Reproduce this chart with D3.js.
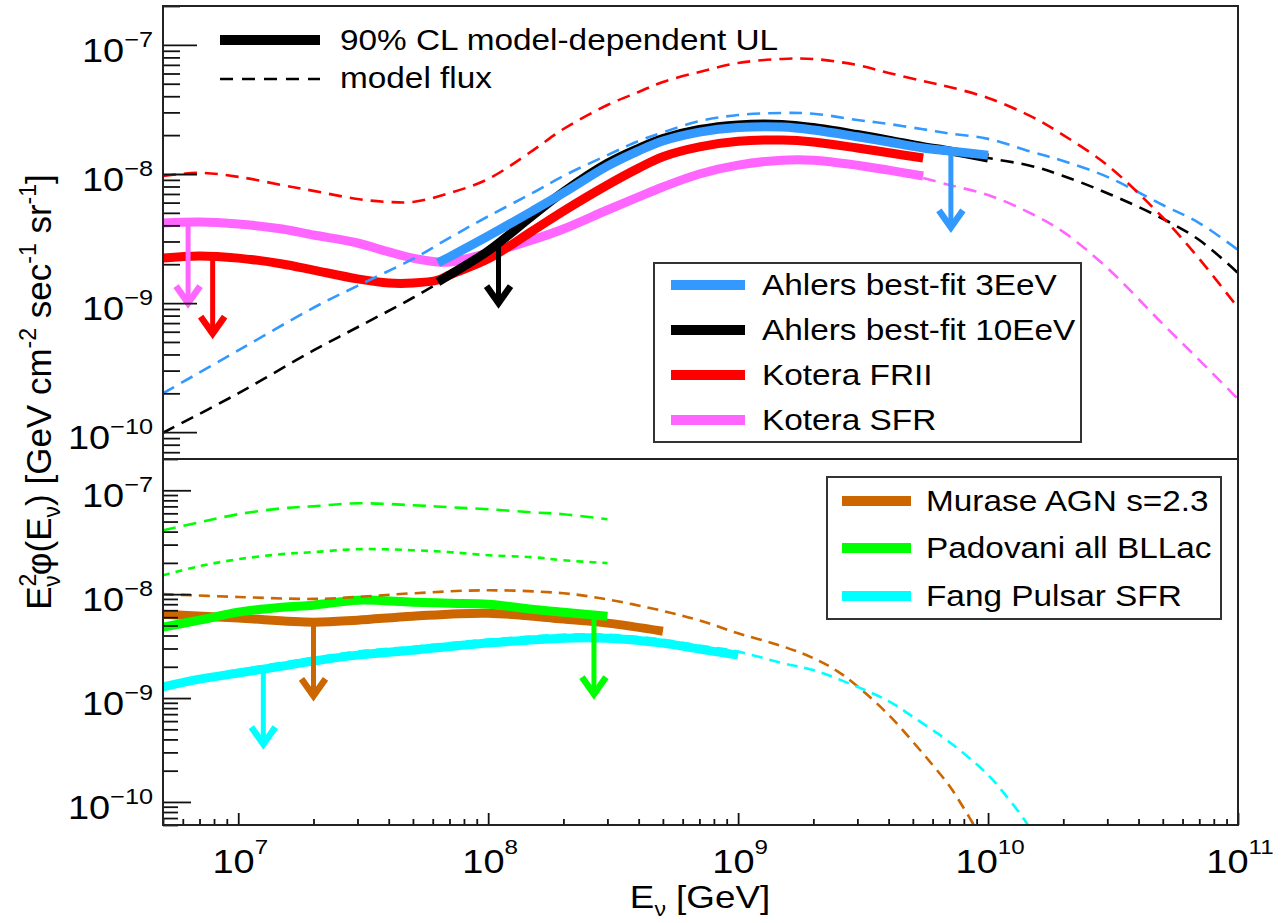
<!DOCTYPE html>
<html>
<head>
<meta charset="utf-8">
<script src="https://cdn.jsdelivr.net/npm/d3@7"></script>
<style>
  body { margin: 0; background: #fff; }
  #chart { display: block; }
  #chart text { font-family: "Liberation Sans", Arial, Helvetica, sans-serif; fill: #000; }
</style>
</head>
<body>
<svg id="chart"></svg>
<script>
// ---------- data (E in GeV, E^2 flux in GeV cm^-2 s^-1 sr^-1) ----------
var xTickValues = [1e7, 1e8, 1e9, 1e10, 1e11];
var xTickExps   = ["7", "8", "9", "10", "11"];
var yTickValues = [1e-7, 1e-8, 1e-9, 1e-10];
var yTickExps   = ["\u22127", "\u22128", "\u22129", "\u221210"];

// top panel: model fluxes
var kotFR2ModelE = [5e6, 7e6, 1e7, 1.5e7, 2e7, 3e7, 4e7, 5e7, 7e7, 1e8, 1.5e8, 2e8, 3e8, 4e8, 5e8, 7e8, 1e9, 1.5e9, 2e9, 3e9, 4e9, 5.5e9, 7e9, 1e10, 1.5e10, 2e10, 3e10, 5e10, 7e10, 1e11];
var kotFR2ModelF = [9.65e-9, 1.02e-8, 9.5e-9, 8.2e-9, 7.4e-9, 6.4e-9, 6.07e-9, 6.07e-9, 7.1e-9, 9.15e-9, 1.51e-8, 2.23e-8, 3.42e-8, 4.32e-8, 5.16e-8, 6.17e-8, 7.24e-8, 7.78e-8, 7.78e-8, 6.98e-8, 6.06e-8, 5.25e-8, 4.72e-8, 3.88e-8, 2.77e-8, 2.0e-8, 1.17e-8, 4.6e-9, 2.2e-9, 9.2e-10];
var ahlers3ModelE = [5e6, 1e7, 2e7, 3e7, 5e7, 7e7, 1e8, 1.5e8, 2e8, 3e8, 4e8, 5e8, 7e8, 1e9, 1.5e9, 2e9, 3e9, 4e9, 5.5e9, 7e9, 1e10, 1.5e10, 2e10, 3e10, 5e10, 7e10, 1e11];
var ahlers3ModelF = [2.0e-10, 4.3e-10, 9.2e-10, 1.36e-9, 2.2e-9, 3.2e-9, 4.7e-9, 7.1e-9, 9.65e-9, 1.4e-8, 1.8e-8, 2.1e-8, 2.57e-8, 2.86e-8, 2.97e-8, 2.93e-8, 2.62e-8, 2.44e-8, 2.22e-8, 2.06e-8, 1.87e-8, 1.48e-8, 1.26e-8, 9.5e-9, 5.75e-9, 4.17e-9, 2.58e-9];
var ahlers10ModelE = [5e6, 1e7, 2e7, 3e7, 5e7, 7e7, 1e8, 1.5e8, 2e8, 3e8, 4e8, 5e8, 7e8, 1e9, 1.5e9, 2e9, 3e9, 4e9, 5.5e9, 7e9, 1e10, 1.5e10, 2e10, 3e10, 5e10, 7e10, 1e11];
var ahlers10ModelF = [9.9e-11, 2.0e-10, 4.3e-10, 6.5e-10, 1.1e-9, 1.62e-9, 2.54e-9, 4.73e-9, 7.26e-9, 1.21e-8, 1.58e-8, 1.88e-8, 2.21e-8, 2.40e-8, 2.42e-8, 2.29e-8, 2.02e-8, 1.83e-8, 1.63e-8, 1.51e-8, 1.33e-8, 1.15e-8, 9.65e-9, 7.1e-9, 4.5e-9, 3.08e-9, 1.71e-9];
var kotSFRModelE = [5.5e9, 7e9, 1e10, 1.5e10, 2e10, 3e10, 5e10, 7e10, 1e11];
var kotSFRModelF = [9.31e-9, 8.22e-9, 6.88e-9, 4.9e-9, 3.56e-9, 1.87e-9, 6.89e-10, 3.62e-10, 1.81e-10];

// top panel: 90% CL upper limits
var kotULE = [5e6, 7e6, 1e7, 1.5e7, 2e7, 3e7, 4e7, 5e7, 6.3e7, 7e7, 1e8, 1.5e8, 2e8, 3e8, 4e8, 5e8, 7e8, 1e9, 1.5e9, 2e9, 3e9, 4e9, 5.5e9];
var kotFR2ULF = [2.23e-9, 2.32e-9, 2.23e-9, 2.01e-9, 1.80e-9, 1.54e-9, 1.43e-9, 1.43e-9, 1.51e-9, 1.65e-9, 2.2e-9, 3.61e-9, 5.16e-9, 8.22e-9, 1.11e-8, 1.36e-8, 1.62e-8, 1.79e-8, 1.83e-8, 1.77e-8, 1.59e-8, 1.46e-8, 1.33e-8];
var kotSFRULF = [4.17e-9, 4.25e-9, 4.10e-9, 3.75e-9, 3.37e-9, 2.92e-9, 2.49e-9, 2.23e-9, 2.08e-9, 2.08e-9, 2.44e-9, 3.08e-9, 3.75e-9, 5.26e-9, 6.64e-9, 7.93e-9, 1.0e-8, 1.17e-8, 1.28e-8, 1.28e-8, 1.17e-8, 1.07e-8, 9.65e-9];
var ahlersULE = [6.3e7, 7e7, 1e8, 1.5e8, 2e8, 3e8, 4e8, 5e8, 7e8, 1e9, 1.5e9, 2e9, 3e9, 4e9, 5.5e9, 7e9, 1e10];
var ahlers3ULF = [2.05e-9, 2.28e-9, 3.31e-9, 5.16e-9, 7.13e-9, 1.15e-8, 1.51e-8, 1.80e-8, 2.11e-8, 2.29e-8, 2.31e-8, 2.19e-8, 1.94e-8, 1.77e-8, 1.59e-8, 1.51e-8, 1.40e-8];
var ahlers10ULF = [1.46e-9, 1.65e-9, 2.54e-9, 4.73e-9, 7.26e-9, 1.21e-8, 1.58e-8, 1.88e-8, 2.21e-8, 2.40e-8, 2.42e-8, 2.29e-8, 2.02e-8, 1.83e-8, 1.63e-8, 1.51e-8, 1.33e-8];

// top panel arrows (SFR, FRII, Ahlers 10EeV, Ahlers 3EeV)
var topArrowE    = [6.3e6, 7.9e6, 1.1e8, 7.1e9];
var topArrowFrom = [4.2e-9, 2.3e-9, 3.08e-9, 1.51e-8];
var topArrowTo   = [9.3e-10, 5.4e-10, 9.3e-10, 3.6e-9];

// bottom panel: model fluxes
var padovaniE = [5e6, 7e6, 1e7, 1.5e7, 2e7, 3e7, 5e7, 7e7, 1e8, 1.5e8, 2e8, 3e8];
var padovaniModelF  = [4.12e-8, 4.92e-8, 5.88e-8, 6.71e-8, 7.02e-8, 7.50e-8, 7.18e-8, 6.87e-8, 6.56e-8, 6.14e-8, 5.88e-8, 5.26e-8];
var padovaniModel2F = [1.52e-8, 1.86e-8, 2.17e-8, 2.43e-8, 2.54e-8, 2.71e-8, 2.65e-8, 2.54e-8, 2.37e-8, 2.27e-8, 2.12e-8, 1.99e-8];
var padovaniULF     = [4.82e-9, 5.62e-9, 6.71e-9, 7.50e-9, 7.84e-9, 8.75e-9, 8.37e-9, 8.19e-9, 8.01e-9, 7.17e-9, 6.71e-9, 6.14e-9];
var muraseModelE = [5e6, 1e7, 2e7, 3e7, 5e7, 1e8, 2e8, 3e8, 5e8, 7e8, 1e9, 1.5e9, 2e9, 2.5e9, 3e9, 4e9, 5e9, 6e9, 7e9, 8e9, 9e9];
var muraseModelF = [1.0e-8, 9.4e-9, 9.0e-9, 9.4e-9, 1.02e-8, 1.09e-8, 1.02e-8, 8.9e-9, 6.9e-9, 5.6e-9, 4.2e-9, 3.16e-9, 2.42e-9, 1.81e-9, 1.30e-9, 6.9e-10, 3.8e-10, 2.27e-10, 1.43e-10, 8.7e-11, 5.4e-11];
var muraseULE = [5e6, 1e7, 2e7, 3e7, 5e7, 1e8, 2e8, 3e8, 5e8];
var muraseULF = [6.42e-9, 5.88e-9, 5.38e-9, 5.62e-9, 6.14e-9, 6.56e-9, 5.75e-9, 5.26e-9, 4.4e-9];
var fangModelE = [5e6, 1e7, 2e7, 3e7, 5e7, 1e8, 2e8, 3e8, 5e8, 7e8, 1e9, 1.5e9, 2e9, 3e9, 4e9, 5e9, 7e9, 1e10, 1.2e10, 1.4e10, 1.6e10];
var fangModelF = [1.36e-9, 1.86e-9, 2.43e-9, 2.80e-9, 3.12e-9, 3.65e-9, 4.07e-9, 4.07e-9, 3.65e-9, 3.2e-9, 2.8e-9, 2.17e-9, 1.86e-9, 1.28e-9, 9.35e-10, 6.6e-10, 3.78e-10, 1.82e-10, 1.09e-10, 6.7e-11, 4e-11];
var fangULE = [5e6, 7e6, 1e7, 1.5e7, 2e7, 3e7, 5e7, 1e8, 2e8, 3e8, 5e8, 7e8, 1e9];
var fangULF = [1.28e-9, 1.52e-9, 1.74e-9, 2.03e-9, 2.27e-9, 2.59e-9, 2.89e-9, 3.38e-9, 3.77e-9, 3.77e-9, 3.38e-9, 2.96e-9, 2.59e-9];

// bottom panel arrows (Fang, Murase, Padovani)
var botArrowE    = [1.26e7, 2.0e7, 2.65e8];
var botArrowFrom = [1.94e-9, 5.38e-9, 6.3e-9];
var botArrowTo   = [3.3e-10, 9.6e-10, 1.0e-9];

// legends
var topLegendNames = ["Ahlers best-fit 3EeV", "Ahlers best-fit 10EeV", "Kotera FRII", "Kotera SFR"];
var botLegendNames = ["Murase AGN s=2.3", "Padovani all BLLac", "Fang Pulsar SFR"];

// ---------- styles ----------
var BLUE = "#3399ff", BLACK = "#000000", RED = "#ff0000", PINK = "#ff66ff",
    BROWN = "#cc6600", GREEN = "#00ff00", CYAN = "#00ffff";
var SX = 1.15;           // horizontal stretch of the reference lettering
var UL_W = 9, MODEL_W = 2.6;

var W = 1285, H = 923;
var padL = 163, padR = 1238, padT = 6, padM = 459, padB = 825;

var svg = d3.select("#chart").attr("width", W).attr("height", H);

var x = d3.scaleLog().domain([5e6, 1e11]).range([padL, padR]);
var yTop = d3.scaleLog().domain([6.2e-11, 2e-7]).range([padM, padT]);
var yBot = d3.scaleLog().domain([6.0e-11, 2e-7]).range([padB, padM]);

var defs = svg.append("defs");
defs.append("clipPath").attr("id", "clipTop").append("rect")
    .attr("x", padL).attr("y", padT).attr("width", padR - padL).attr("height", padM - padT);
defs.append("clipPath").attr("id", "clipBot").append("rect")
    .attr("x", padL).attr("y", padM).attr("width", padR - padL).attr("height", padB - padM);

function zip(E, F) { return E.map(function(e, i) { return [e, F[i]]; }); }

function drawLine(g, y, E, F, color, width, dash) {
  var line = d3.line()
      .x(function(d) { return x(d[0]); })
      .y(function(d) { return y(d[1]); })
      .curve(d3.curveCatmullRom.alpha(0.5));
  g.append("path")
      .datum(zip(E, F))
      .attr("d", line)
      .attr("fill", "none")
      .attr("stroke", color)
      .attr("stroke-width", width)
      .attr("stroke-dasharray", dash || null)
      .attr("stroke-linejoin", "round");
}

function drawArrow(g, y, e, from, to, color) {
  var ax = x(e), y0 = y(from), y1 = y(to);
  g.append("line").attr("x1", ax).attr("x2", ax).attr("y1", y0).attr("y2", y1 - 3)
      .attr("stroke", color).attr("stroke-width", 5);
  g.append("polyline")
      .attr("points", [[ax - 12, y1 - 21], [ax, y1 - 4], [ax + 12, y1 - 21]].join(" "))
      .attr("fill", "none").attr("stroke", color).attr("stroke-width", 6.5)
      .attr("stroke-linejoin", "miter");
}

function stretchText(g, px, py, size, anchor) {
  return g.append("text")
      .attr("transform", "translate(" + px + "," + py + ") scale(" + SX + ",1)")
      .attr("font-size", size)
      .attr("text-anchor", anchor || "start");
}

// ---------- top panel ----------
var gTop = svg.append("g").attr("clip-path", "url(#clipTop)");
drawLine(gTop, yTop, kotULE, kotSFRULF, PINK, UL_W);
drawLine(gTop, yTop, kotULE, kotFR2ULF, RED, UL_W);
drawLine(gTop, yTop, ahlersULE, ahlers10ULF, BLACK, UL_W);
drawLine(gTop, yTop, ahlers10ModelE, ahlers10ModelF, BLACK, MODEL_W, "13 8");
drawLine(gTop, yTop, ahlers3ModelE, ahlers3ModelF, BLUE, MODEL_W, "13 8");
drawLine(gTop, yTop, kotFR2ModelE, kotFR2ModelF, RED, MODEL_W, "13 8");
drawLine(gTop, yTop, kotSFRModelE, kotSFRModelF, PINK, MODEL_W, "13 8");
drawLine(gTop, yTop, ahlersULE, ahlers3ULF, BLUE, UL_W);
var topArrowColors = [PINK, RED, BLACK, BLUE];
topArrowE.forEach(function(e, i) {
  drawArrow(gTop, yTop, e, topArrowFrom[i], topArrowTo[i], topArrowColors[i]);
});

// ---------- bottom panel ----------
var gBot = svg.append("g").attr("clip-path", "url(#clipBot)");
drawLine(gBot, yBot, muraseULE, muraseULF, BROWN, UL_W);
drawLine(gBot, yBot, padovaniE, padovaniULF, GREEN, UL_W);
drawLine(gBot, yBot, fangULE, fangULF, CYAN, UL_W);
drawLine(gBot, yBot, padovaniE, padovaniModelF, GREEN, MODEL_W, "13 8");
drawLine(gBot, yBot, padovaniE, padovaniModel2F, GREEN, MODEL_W, "7 6");
drawLine(gBot, yBot, muraseModelE, muraseModelF, BROWN, MODEL_W, "11 7");
drawLine(gBot, yBot, fangModelE, fangModelF, CYAN, MODEL_W, "11 7");
var botArrowColors = [CYAN, BROWN, GREEN];
botArrowE.forEach(function(e, i) {
  drawArrow(gBot, yBot, e, botArrowFrom[i], botArrowTo[i], botArrowColors[i]);
});

// ---------- axes ----------
function isMajor(v) { var l = Math.log10(v); return Math.abs(l - Math.round(l)) < 1e-9; }

function yAxisTicks(y, majorLen, minorLen) {
  var all = y.ticks();
  [[all.filter(isMajor), majorLen], [all.filter(function(v) { return !isMajor(v); }), minorLen]]
    .forEach(function(p) {
      var g = svg.append("g").attr("transform", "translate(" + padL + ",0)")
          .call(d3.axisLeft(y).tickValues(p[0]).tickSize(-p[1]).tickFormat(""));
      g.select(".domain").remove();
      g.selectAll("line").attr("stroke", "#111").attr("stroke-width", 1.8);
    });
  yTickValues.forEach(function(v, i) {
    var t = stretchText(svg, 153, y(v) + 17, 33, "end");
    t.append("tspan").text("10");
    t.append("tspan").attr("font-size", 22).attr("dy", -15).text(yTickExps[i]);
  });
}
yAxisTicks(yTop, 34, 17);
yAxisTicks(yBot, 28, 15);

var xAll = x.ticks();
[[xAll.filter(isMajor), 12], [xAll.filter(function(v) { return !isMajor(v); }), 6]].forEach(function(p) {
  var g = svg.append("g").attr("transform", "translate(0," + padB + ")")
      .call(d3.axisBottom(x).tickValues(p[0]).tickSize(-p[1]).tickFormat(""));
  g.select(".domain").remove();
  g.selectAll("line").attr("stroke", "#111").attr("stroke-width", 1.8);
});
xTickValues.forEach(function(v, i) {
  var t = stretchText(svg, x(v) + 2, 873, 33, "middle");
  t.append("tspan").text("10");
  t.append("tspan").attr("font-size", 21).attr("dy", -19).text(xTickExps[i]);
});

// frames
svg.append("rect").attr("x", padL).attr("y", padT).attr("width", padR - padL).attr("height", padM - padT)
    .attr("fill", "none").attr("stroke", "#222").attr("stroke-width", 2);
svg.append("rect").attr("x", padL).attr("y", padM).attr("width", padR - padL).attr("height", padB - padM)
    .attr("fill", "none").attr("stroke", "#222").attr("stroke-width", 2);

// axis titles
var xt = stretchText(svg, 700, 908, 32, "middle");
xt.append("tspan").text("E");
xt.append("tspan").attr("font-size", 20).attr("dy", 8).text("\u03bd");
xt.append("tspan").attr("dy", -8).text(" [GeV]");

var yt = svg.append("text")
    .attr("transform", "translate(51,392) rotate(-90)")
    .attr("font-size", 35).attr("text-anchor", "middle");
yt.append("tspan").text("E");
yt.append("tspan").attr("font-size", 23).attr("dy", -15).text("2");
yt.append("tspan").attr("font-size", 23).attr("dx", -13).attr("dy", 24).text("\u03bd");
yt.append("tspan").attr("dy", -9).text("\u03c6(E");
yt.append("tspan").attr("font-size", 23).attr("dy", 9).text("\u03bd");
yt.append("tspan").attr("dy", -9).text(")  [GeV cm");
yt.append("tspan").attr("font-size", 23).attr("dy", -15).text("-2");
yt.append("tspan").attr("dy", 15).text(" sec");
yt.append("tspan").attr("font-size", 23).attr("dy", -15).text("-1");
yt.append("tspan").attr("dy", 15).text(" sr");
yt.append("tspan").attr("font-size", 23).attr("dy", -15).text("-1");
yt.append("tspan").attr("dy", 15).text("]");

// ---------- legends ----------
// style legend (no border)
svg.append("line").attr("x1", 220).attr("x2", 320).attr("y1", 40).attr("y2", 40)
    .attr("stroke", BLACK).attr("stroke-width", 10);
svg.append("line").attr("x1", 220).attr("x2", 320).attr("y1", 79).attr("y2", 79)
    .attr("stroke", BLACK).attr("stroke-width", MODEL_W).attr("stroke-dasharray", "13 9");
stretchText(svg, 340, 50, 29).text("90% CL model-dependent UL");
stretchText(svg, 340, 88, 29).text("model flux");

function boxLegend(bx, by, bw, bh, names, colors, ys, lx0, lx1, tx) {
  svg.append("rect").attr("x", bx).attr("y", by).attr("width", bw).attr("height", bh)
      .attr("fill", "#fff").attr("stroke", "#333").attr("stroke-width", 2);
  names.forEach(function(n, i) {
    svg.append("line").attr("x1", lx0).attr("x2", lx1).attr("y1", ys[i]).attr("y2", ys[i])
        .attr("stroke", colors[i]).attr("stroke-width", 10);
    stretchText(svg, tx, ys[i] + 10, 29).text(n);
  });
}
boxLegend(654, 263, 427, 179, topLegendNames, [BLUE, BLACK, RED, PINK],
          [285, 330, 375, 420], 671, 745, 762);
boxLegend(827, 477, 394, 142, botLegendNames, [BROWN, GREEN, CYAN],
          [501, 548, 596], 842, 911, 926);
</script>
</body>
</html>
